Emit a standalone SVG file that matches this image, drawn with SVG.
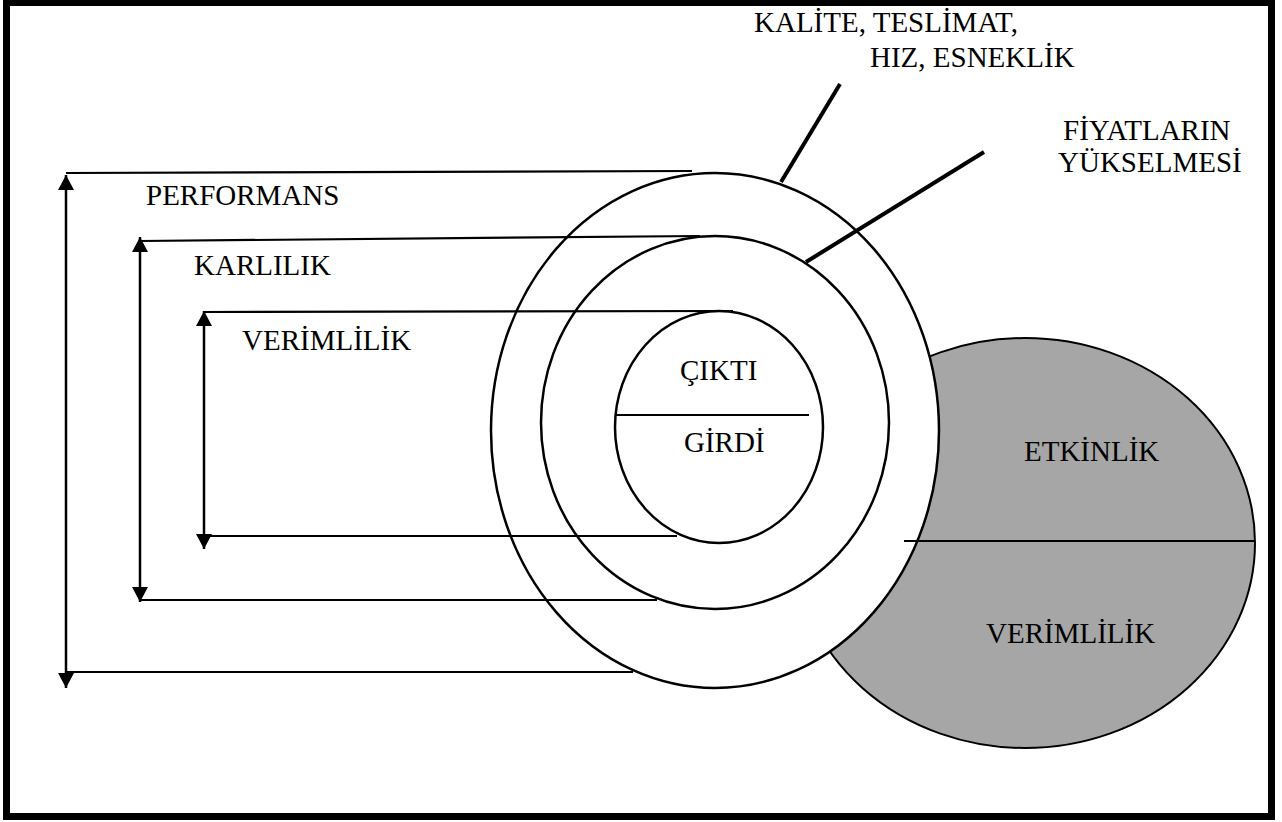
<svg xmlns="http://www.w3.org/2000/svg" width="1282" height="822" viewBox="0 0 1282 822">
<style>
text{font-family:"Liberation Serif","Times New Roman",serif;font-size:29px;fill:#000}
.el{stroke:#000;stroke-width:2.5;fill:#fff}
.ln{stroke:#000;stroke-width:2.2;fill:none}
.vl{stroke:#000;stroke-width:2.5;fill:none;marker-start:url(#ah);marker-end:url(#ah)}
.ld{stroke:#000;stroke-width:4;fill:none}
</style>
<defs>
<marker id="ah" viewBox="0 0 15 16" refX="15" refY="8" markerWidth="15" markerHeight="16" markerUnits="userSpaceOnUse" orient="auto-start-reverse">
<path d="M0,0 L15,8 L0,16 Z" fill="#000"/>
</marker>
</defs>
<rect x="0" y="0" width="1282" height="822" fill="#fff"/>
<rect id="frame" x="6.5" y="2.5" width="1265" height="814" fill="none" stroke="#000" stroke-width="7"/>
<g id="etkinlik-node">
<ellipse cx="1025" cy="543" rx="230" ry="205" fill="#a6a6a6" stroke="#000" stroke-width="2"/>
</g>
<g id="performans-node">
<ellipse class="el" cx="715" cy="430.5" rx="224" ry="257.5"/>
</g>
<g id="karlilik-node">
<ellipse class="el" cx="715" cy="422.5" rx="174" ry="186.5"/>
</g>
<g id="verimlilik-node">
<ellipse class="el" cx="719" cy="427" rx="104" ry="116"/>
<line class="ln" x1="615" y1="415" x2="809" y2="415"/>
<text x="680" y="380">ÇIKTI</text>
<text x="684" y="452">GİRDİ</text>
</g>
<g id="etkinlik-labels">
<line class="ln" x1="904" y1="541" x2="1255" y2="541"/>
<text x="1024" y="461">ETKİNLİK</text>
<text x="986" y="643">VERİMLİLİK</text>
</g>
<g id="connectors">
<line class="vl" x1="66" y1="175" x2="66" y2="688"/>
<line class="ln" x1="66" y1="173" x2="692" y2="171"/>
<line class="ln" x1="66" y1="672" x2="633" y2="672"/>
<line class="vl" x1="140" y1="237" x2="140" y2="602"/>
<line class="ln" x1="140" y1="241" x2="700" y2="236"/>
<line class="ln" x1="140" y1="600" x2="657" y2="600"/>
<line class="vl" x1="204" y1="311" x2="204" y2="549"/>
<line class="ln" x1="204" y1="312" x2="733" y2="311"/>
<line class="ln" x1="204" y1="536" x2="677" y2="536"/>
<line class="ld" x1="840" y1="84" x2="781" y2="182"/>
<line class="ld" x1="984" y1="152" x2="806" y2="262" stroke-width="4.5"/>
</g>
<g id="labels">
<text x="146" y="205">PERFORMANS</text>
<text x="194" y="275">KARLILIK</text>
<text x="242" y="350">VERİMLİLİK</text>
<text x="754" y="32">KALİTE, TESLİMAT,</text>
<text x="870" y="67">HIZ, ESNEKLİK</text>
<text x="1063" y="140">FİYATLARIN</text>
<text x="1058" y="172">YÜKSELMESİ</text>
</g>
</svg>
